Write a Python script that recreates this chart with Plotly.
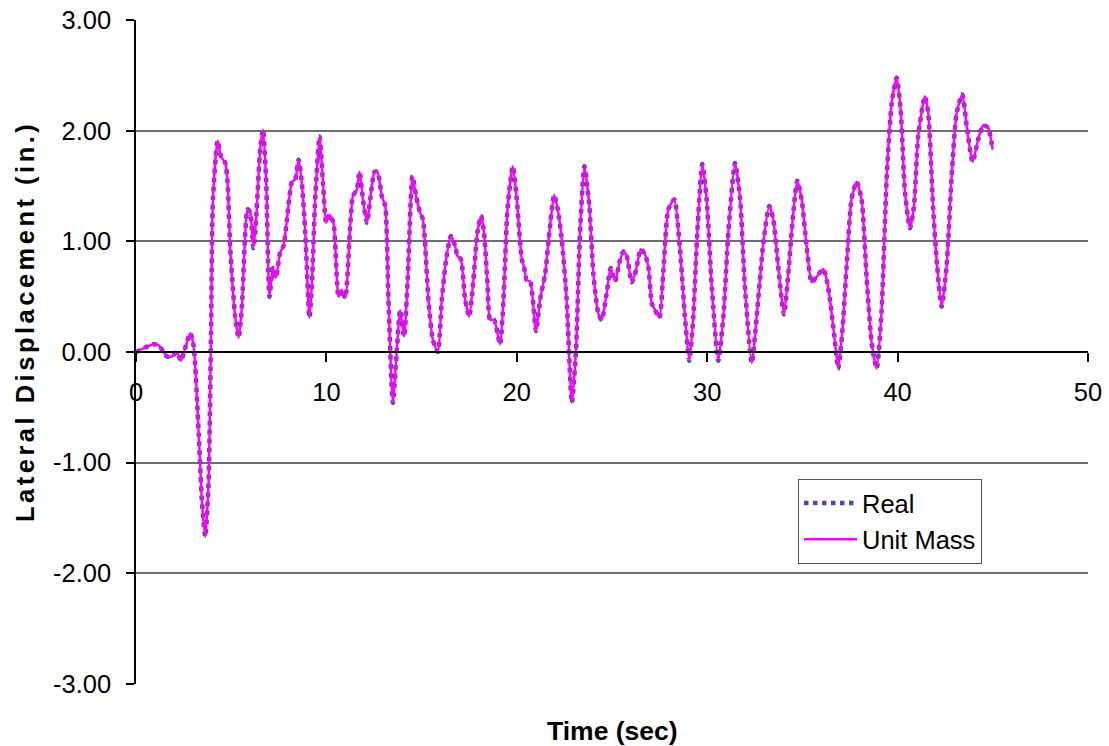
import plotly.graph_objects as go

time_sec = [0, 0.92, 1.19, 1.63, 1.89, 2.15, 2.36, 2.59, 2.85, 3.03, 3.29, 3.46, 3.64, 3.81, 3.94,
            4.04, 4.29, 4.46, 4.69, 4.81, 4.95, 5.21, 5.39, 5.56, 5.74, 5.86, 6.00, 6.17, 6.32,
            6.52, 6.67, 6.84, 7.01, 7.19, 7.35, 7.57, 7.75, 7.93, 8.19, 8.36, 8.54, 8.71, 8.89,
            9.11, 9.24, 9.41, 9.64, 9.82, 9.99, 10.16, 10.37, 10.64, 10.81, 10.99, 11.25, 11.39,
            11.60, 11.74, 11.92, 12.13, 12.30, 12.53, 12.68, 12.91, 13.09, 13.26, 13.49, 13.70,
            13.87, 14.08, 14.26, 14.52, 14.71, 14.92, 15.07, 15.36, 15.59, 15.85, 16.06, 16.29,
            16.54, 16.76, 16.88, 17.06, 17.29, 17.50, 17.72, 17.93, 18.13, 18.28, 18.46, 18.60,
            18.81, 19.12, 19.30, 19.51, 19.79, 20.00, 20.26, 20.38, 20.52, 20.70, 21.01, 21.22,
            21.49, 21.71, 21.96, 22.15, 22.36, 22.62, 22.89, 23.11, 23.32, 23.55, 23.81, 24.02,
            24.28, 24.46, 24.72, 24.93, 25.16, 25.39, 25.60, 25.77, 26.04, 26.26, 26.51, 26.74,
            26.91, 27.09, 27.26, 27.49, 27.70, 27.96, 28.27, 28.57, 28.83, 29.06, 29.27, 29.48,
            29.74, 29.97, 30.24, 30.58, 30.85, 31.11, 31.46, 31.73, 31.98, 32.34, 32.60, 32.95,
            33.26, 33.47, 33.73, 34.03, 34.26, 34.49, 34.73, 34.96, 35.22, 35.49, 35.75, 36.10,
            36.28, 36.45, 36.66, 36.88, 37.09, 37.32, 37.58, 37.85, 38.11, 38.37, 38.64, 38.90,
            39.16, 39.43, 39.69, 39.95, 40.16, 40.39, 40.65, 40.86, 41.08, 41.43, 41.61, 41.87,
            42.08, 42.31, 42.57, 42.84, 43.10, 43.40, 43.63, 43.94, 44.23, 44.49, 44.75, 44.99]

displacement = [0.00, 0.07, 0.06, -0.04, -0.04, 0.00, -0.08, 0.04, 0.17, 0.05, -0.73, -1.34, -1.67,
                -1.18, 0.17, 1.38, 1.91, 1.77, 1.71, 1.53, 0.93, 0.32, 0.13, 0.41, 1.08, 1.29, 1.26,
                0.94, 1.23, 1.83, 2.01, 1.53, 0.50, 0.76, 0.67, 0.90, 0.96, 1.20, 1.54, 1.56, 1.74,
                1.53, 1.08, 0.31, 0.62, 1.38, 1.95, 1.53, 1.17, 1.24, 1.17, 0.50, 0.56, 0.49, 1.14,
                1.41, 1.47, 1.63, 1.38, 1.17, 1.38, 1.63, 1.63, 1.41, 1.32, 0.47, -0.46, 0.02, 0.38,
                0.14, 0.62, 1.59, 1.41, 1.26, 1.20, 0.47, 0.11, 0.00, 0.47, 0.84, 1.05, 0.96, 0.87,
                0.84, 0.47, 0.32, 0.65, 1.08, 1.23, 1.08, 0.62, 0.29, 0.29, 0.07, 0.47, 1.29, 1.68,
                1.38, 0.84, 0.77, 0.65, 0.64, 0.19, 0.47, 0.71, 1.08, 1.42, 1.29, 1.02, 0.47, -0.46,
                0.02, 1.08, 1.68, 1.32, 0.71, 0.35, 0.29, 0.53, 0.76, 0.64, 0.81, 0.91, 0.87, 0.63,
                0.74, 0.93, 0.88, 0.77, 0.44, 0.38, 0.31, 0.74, 1.29, 1.38, 0.93, 0.32, -0.08, 0.32,
                1.08, 1.70, 1.38, 0.59, -0.08, 0.32, 1.08, 1.71, 1.38, 0.59, -0.10, 0.32, 0.99, 1.32,
                1.20, 0.77, 0.34, 0.71, 1.20, 1.55, 1.38, 0.96, 0.63, 0.68, 0.75, 0.65, 0.47, 0.17,
                -0.15, 0.17, 0.77, 1.38, 1.54, 1.38, 0.68, 0.08, -0.15, 0.38, 1.59, 2.25, 2.48, 2.19,
                1.44, 1.12, 1.32, 1.95, 2.31, 2.16, 1.29, 0.77, 0.41, 0.77, 1.59, 2.16, 2.33, 2.04,
                1.72, 1.92, 2.05, 2.03, 1.83]

series_names = ["Real", "Unit Mass"]
x_ticks = [0, 10, 20, 30, 40, 50]
y_ticks = [-3, -2, -1, 0, 1, 2, 3]

FONT = "Liberation Sans, Arial, sans-serif"
FS = 25.5

fig = go.Figure()
fig.add_trace(go.Scatter(
    x=time_sec, y=displacement, name=series_names[0], mode="lines",
    line=dict(color="#4a4aa8", width=4.5, dash="dot", shape="spline", smoothing=0.6),
))
fig.add_trace(go.Scatter(
    x=time_sec, y=displacement, name=series_names[1], mode="lines",
    line=dict(color="#ff00ff", width=2.5, shape="spline", smoothing=0.6),
))

fig.update_layout(
    width=1109, height=746,
    margin=dict(l=136, r=21, t=20, b=62, pad=0),
    paper_bgcolor="white", plot_bgcolor="white",
    font=dict(family=FONT, size=FS, color="black"),
    showlegend=True,
    legend=dict(
        x=(798 - 136) / 952, y=(684 - 479) / 664, xanchor="left", yanchor="top",
        bgcolor="white", bordercolor="#555555", borderwidth=1,
        font=dict(family=FONT, size=FS, color="black"),
        tracegroupgap=0, itemwidth=53,
    ),
    xaxis=dict(
        range=[0, 50], tickmode="array", tickvals=x_ticks,
        ticktext=[str(v) for v in x_ticks],
        anchor="free", position=0.5, automargin=False,
        showline=True, linecolor="black", linewidth=1.5,
        ticks="outside", ticklen=9, tickwidth=1.5, tickcolor="black",
        ticklabelstandoff=9,
        showgrid=False, zeroline=False,
        tickfont=dict(family=FONT, size=FS, color="black"),
    ),
    yaxis=dict(
        range=[-3.003, 3.003], tickmode="array", tickvals=y_ticks,
        ticktext=[f"{v:.2f}" for v in y_ticks],
        automargin=False,
        showline=True, linecolor="black", linewidth=1.5,
        ticks="outside", ticklen=8, tickwidth=1.5, tickcolor="black",
        ticklabelstandoff=10,
        showgrid=True, gridcolor="#6e6e6e", gridwidth=1.5,
        zeroline=False,
        tickfont=dict(family=FONT, size=FS, color="black"),
    ),
    annotations=[
        dict(text="<b>Time (sec)</b>", xref="paper", yref="paper",
             x=0.5, y=(684 - 731) / 664, xanchor="center", yanchor="middle",
             showarrow=False, font=dict(family=FONT, size=26.5, color="black")),
        dict(text="<span style='letter-spacing:3.5px'><b>Lateral Displacement (in.)</b></span>",
             xref="paper", yref="paper",
             x=(25 - 136) / 952, y=(684 - 322) / 664, xanchor="center", yanchor="middle",
             textangle=-90, showarrow=False,
             font=dict(family=FONT, size=FS, color="black")),
    ],
)

fig.write_html("out.html", config={"displayModeBar": False},
               post_script="document.body.style.margin='0';document.body.style.overflow='hidden';")
